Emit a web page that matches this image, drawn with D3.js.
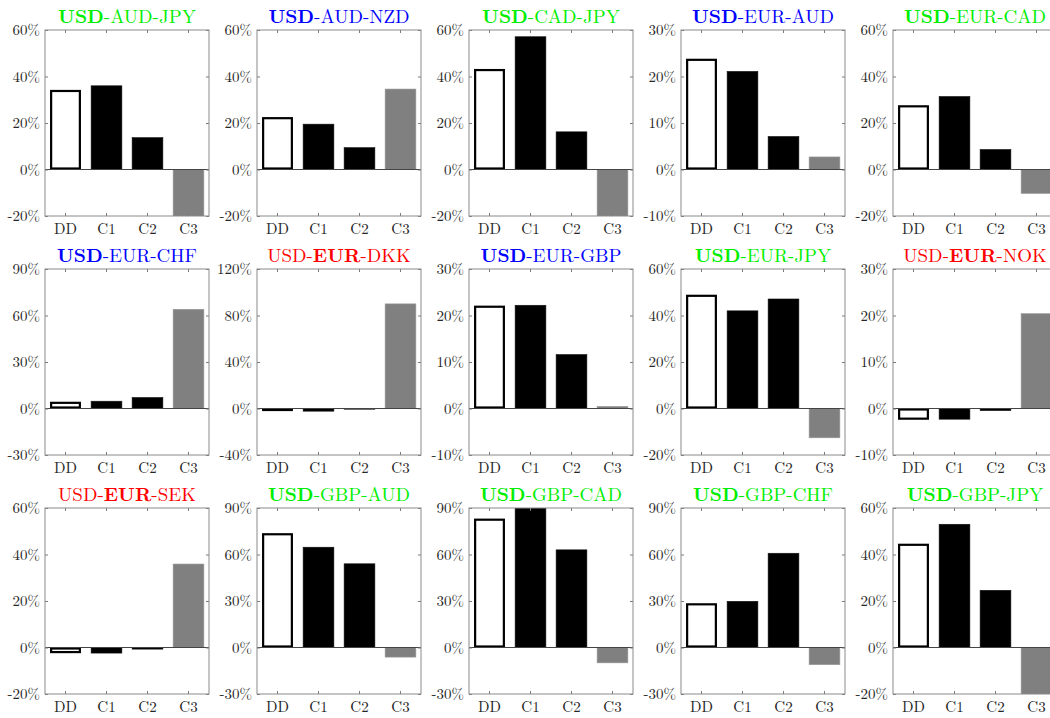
<!DOCTYPE html>
<html lang="en">
  <head>
    <meta charset="UTF-8" />
    <title>Currency triangles</title>
    <script src="https://d3js.org/d3.v7.min.js"></script>
    <style>
      body {
        margin: 0;
        background: #fff;
      }
      svg text {
        font-family: "Latin Modern Roman", "Liberation Serif", serif;
      }
      .axis text {
        font-size: 15px;
        fill: #262626;
      }
      .axis line {
        stroke: #7a7a7a;
      }
      .axis .domain {
        display: none;
      }
    </style>
  </head>
  <body>
    <div id="chart"></div>

    <script>
      // categories on x
      const categories = ["DD", "C1", "C2", "C3"];

      // panel titles: [left, middle, right], which part is bold, colour
      const titleParts = [
        ["USD", "AUD", "JPY"], ["USD", "AUD", "NZD"], ["USD", "CAD", "JPY"],
        ["USD", "EUR", "AUD"], ["USD", "EUR", "CAD"], ["USD", "EUR", "CHF"],
        ["USD", "EUR", "DKK"], ["USD", "EUR", "GBP"], ["USD", "EUR", "JPY"],
        ["USD", "EUR", "NOK"], ["USD", "EUR", "SEK"], ["USD", "GBP", "AUD"],
        ["USD", "GBP", "CAD"], ["USD", "GBP", "CHF"], ["USD", "GBP", "JPY"]
      ];
      const boldIndex = [0, 0, 0, 0, 0, 0, 1, 0, 0, 1, 1, 0, 0, 0, 0];
      const titleColors = [
        "#00ee00", "#0000ff", "#00ee00", "#0000ff", "#00ee00",
        "#0000ff", "#ff0000", "#0000ff", "#00ee00", "#ff0000",
        "#ff0000", "#00ee00", "#00ee00", "#00ee00", "#00ee00"
      ];

      // y axis limits and tick step (percent)
      const yMin = [-20, -20, -20, -10, -20, -30, -40, -10, -20, -10, -20, -30, -30, -30, -20];
      const yMax = [60, 60, 60, 30, 60, 90, 120, 30, 60, 30, 60, 90, 90, 90, 60];
      const yStep = [20, 20, 20, 10, 20, 30, 40, 10, 20, 10, 20, 30, 30, 30, 20];

      // bar values (percent) per category
      const ddValues = [34.2, 22.5, 43.2, 23.8, 27.6, 4.3, -1.2, 22.1, 48.9, -2.4, -2.4, 73.7, 83.1, 28.5, 44.6];
      const c1Values = [36.0, 19.5, 57.1, 21.1, 31.4, 4.7, -2.3, 22.2, 42.0, -2.3, -2.4, 64.7, 92.0, 29.8, 53.0];
      const c2Values = [13.7, 9.4, 16.2, 7.1, 8.6, 7.1, -0.6, 11.6, 47.1, -0.45, -0.7, 54.0, 63.0, 60.8, 24.6];
      const c3Values = [-24.0, 34.6, -24.0, 2.7, -10.3, 64.0, 90.0, 0.45, -12.6, 20.4, 35.9, -6.2, -9.9, -11.1, -24.0];

      const cols = 5,
        panelW = 164,
        panelH = 186,
        left0 = 45,
        top0 = 30,
        stepX = 212,
        stepY = 239;

      const svg = d3
        .select("#chart")
        .append("svg")
        .attr("width", 1050)
        .attr("height", 718);

      const x = d3
        .scaleBand()
        .domain(categories)
        .range([0, panelW])
        .paddingInner(0.25)
        .paddingOuter(0.125);

      titleParts.forEach((parts, i) => {
        const col = i % cols,
          row = Math.floor(i / cols);
        const g = svg
          .append("g")
          .attr(
            "transform",
            `translate(${left0 + col * stepX},${top0 + row * stepY})`
          );

        const y = d3.scaleLinear().domain([yMin[i], yMax[i]]).range([panelH, 0]);
        const ticks = d3.range(yMin[i], yMax[i] + yStep[i] / 2, yStep[i]);

        // clip so bars stop at the box
        const clipId = "clip" + i;
        g.append("clipPath")
          .attr("id", clipId)
          .append("rect")
          .attr("width", panelW)
          .attr("height", panelH);

        const rows = categories.map((c, k) => ({
          cat: c,
          v: [ddValues, c1Values, c2Values, c3Values][k][i]
        }));

        g.append("g")
          .attr("clip-path", `url(#${clipId})`)
          .selectAll("rect")
          .data(rows)
          .join("rect")
          .attr("x", (d) => x(d.cat) + (d.cat === "DD" ? 1 : 0))
          .attr("width", (d) => x.bandwidth() - (d.cat === "DD" ? 2 : 0))
          .attr("y", (d) => y(Math.max(0, d.v)) + (d.cat === "DD" ? 1 : 0))
          .attr("height", (d) =>
            Math.max(0.5, Math.abs(y(d.v) - y(0)) - (d.cat === "DD" ? 2 : 0))
          )
          .attr("fill", (d) =>
            d.cat === "DD" ? "#fff" : d.cat === "C3" ? "#808080" : "#000"
          )
          .attr("stroke", (d) =>
            d.cat === "DD" ? "#000" : d.cat === "C3" ? "#999" : "#111"
          )
          .attr("stroke-width", (d) => (d.cat === "DD" ? 2.2 : 0.6));

        // zero line
        g.append("line")
          .attr("x1", 0)
          .attr("x2", panelW)
          .attr("y1", y(0))
          .attr("y2", y(0))
          .attr("stroke", "#444")
          .attr("stroke-width", 1);

        // axes, ticks inward
        g.append("g")
          .attr("class", "axis")
          .call(
            d3
              .axisLeft(y)
              .tickValues(ticks)
              .tickSize(-3)
              .tickPadding(5)
              .tickFormat((d) => d + "%")
          );
        g.append("g")
          .attr("class", "axis")
          .attr("transform", `translate(${panelW},0)`)
          .call(d3.axisRight(y).tickValues(ticks).tickSize(-3).tickFormat(""));
        g.append("g")
          .attr("class", "axis")
          .call(d3.axisTop(x).tickSize(-3).tickFormat(""));
        g.append("g")
          .attr("class", "axis")
          .attr("transform", `translate(0,${panelH})`)
          .call(d3.axisBottom(x).tickSize(-3).tickPadding(7));

        // box
        g.append("rect")
          .attr("width", panelW)
          .attr("height", panelH)
          .attr("fill", "none")
          .attr("stroke", "#8a8a8a")
          .attr("stroke-width", 1);

        // title
        const t = g
          .append("text")
          .attr("x", panelW / 2)
          .attr("y", -7)
          .attr("text-anchor", "middle")
          .attr("font-size", "19px")
          .attr("fill", titleColors[i]);
        parts.forEach((p, k) => {
          t.append("tspan")
            .attr("font-weight", k === boldIndex[i] ? "bold" : "normal")
            .text(p);
          if (k < parts.length - 1) t.append("tspan").text("-");
        });
      });
    </script>
  </body>
</html>
